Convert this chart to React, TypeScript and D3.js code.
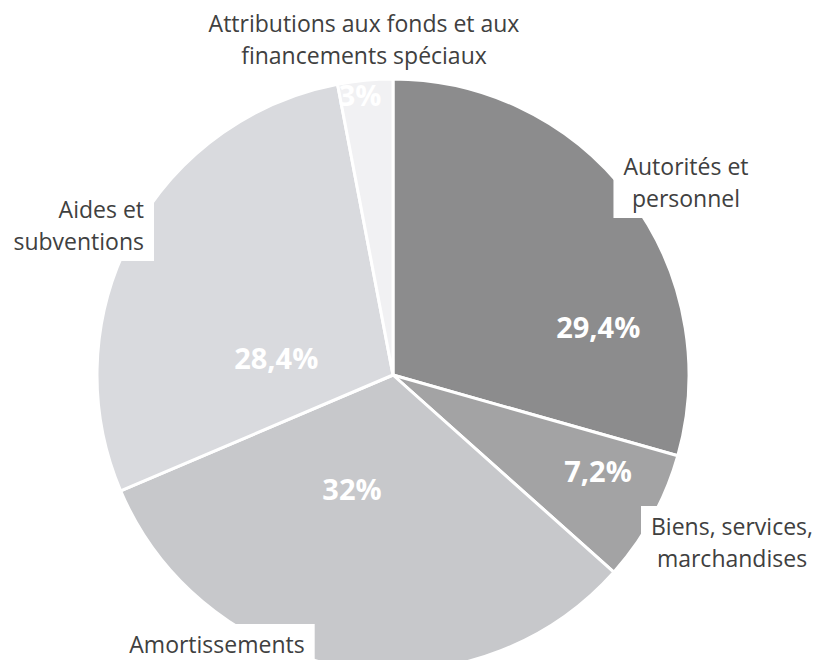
import React, { useEffect, useRef } from "react";
import * as d3 from "d3";

// ---- data ----
const categories = [
  "Autorités et personnel",
  "Biens, services, marchandises",
  "Amortissements",
  "Aides et subventions",
  "Attributions aux fonds et aux financements spéciaux",
];
const values = [29.4, 7.2, 32, 28.4, 3];
const valueLabels = ["29,4%", "7,2%", "32%", "28,4%", "3%"];
const categoryLines = [
  ["Autorités et", "personnel"],
  ["Biens, services,", "marchandises"],
  ["Amortissements"],
  ["Aides et", "subventions"],
  ["Attributions aux fonds et aux", "financements spéciaux"],
];
const colors = ["#8c8c8d", "#a3a3a4", "#c7c8cb", "#d9dade", "#f1f1f3"];

// ---- layout ----
const W = 822;
const H = 660;
const CX = 393;
const CY = 375;
const R = 296;
// value label placement (degrees clockwise from 12 o'clock, radius in px)
const valueLabelPolar = [
  [76.6, 211],
  [114.9, 226],
  [199.8, 121],
  [278.3, 118],
  [353.3, 282],
];
// category label anchors (x, first-line y) and alignment
const catLabelPos = [
  { x: 686, y: 166, anchor: "middle" },
  { x: 732, y: 526, anchor: "middle" },
  { x: 217, y: 644, anchor: "middle" },
  { x: 144, y: 209, anchor: "end" },
  { x: 364, y: 23, anchor: "middle" },
];
const LINE_H = 32;
const FONT = "'Open Sans', Lato, sans-serif";

export default function App() {
  const ref = useRef<SVGSVGElement | null>(null);

  useEffect(() => {
    const svg = d3.select(ref.current);
    svg.selectAll("*").remove();

    const pie = d3
      .pie<number>()
      .sort(null)
      .value((d) => d);
    const arcs = pie(values);
    const arc = d3.arc<d3.PieArcDatum<number>>().innerRadius(0).outerRadius(R);

    const g = svg.append("g").attr("transform", `translate(${CX},${CY})`);
    g.selectAll("path.slice")
      .data(arcs)
      .join("path")
      .attr("class", "slice")
      .attr("d", arc as any)
      .attr("fill", (_, i) => colors[i])
      .attr("stroke", "#ffffff")
      .attr("stroke-width", 3)
      .attr("stroke-linejoin", "round");

    // category labels with white boxes
    const labelsG = svg.append("g");
    categoryLines.forEach((lines, i) => {
      const p = catLabelPos[i];
      const grp = labelsG.append("g");
      const rect = grp.append("rect").attr("fill", "#ffffff");
      const t = grp
        .append("text")
        .attr("font-family", FONT)
        .attr("font-size", 23)
        .attr("fill", "#404040")
        .attr("text-anchor", p.anchor)
        .attr("dominant-baseline", "central")
        .style("font-variant-ligatures", "none");
      lines.forEach((ln, k) => {
        t.append("tspan")
          .attr("x", p.x)
          .attr("y", p.y + k * LINE_H)
          .text(ln);
      });
      const bb = (t.node() as SVGTextElement).getBBox();
      const pad = 10;
      rect
        .attr("x", bb.x - pad)
        .attr("y", bb.y - 4)
        .attr("width", bb.width + pad * 2)
        .attr("height", bb.height + 8);
    });

    // value labels
    svg
      .append("g")
      .selectAll("text")
      .data(valueLabels)
      .join("text")
      .attr("x", (_, i) => CX + valueLabelPolar[i][1] * Math.sin((valueLabelPolar[i][0] * Math.PI) / 180))
      .attr("y", (_, i) => CY - valueLabelPolar[i][1] * Math.cos((valueLabelPolar[i][0] * Math.PI) / 180))
      .attr("text-anchor", "middle")
      .attr("dominant-baseline", "central")
      .attr("font-family", FONT)
      .attr("font-weight", "bold")
      .attr("font-size", 29)
      .attr("fill", "#ffffff")
      .text((d) => d);
  }, []);

  return (
    <svg
      ref={ref}
      width={W}
      height={H}
      style={{ position: "absolute", left: 0, top: 0, background: "#ffffff" }}
    />
  );
}
